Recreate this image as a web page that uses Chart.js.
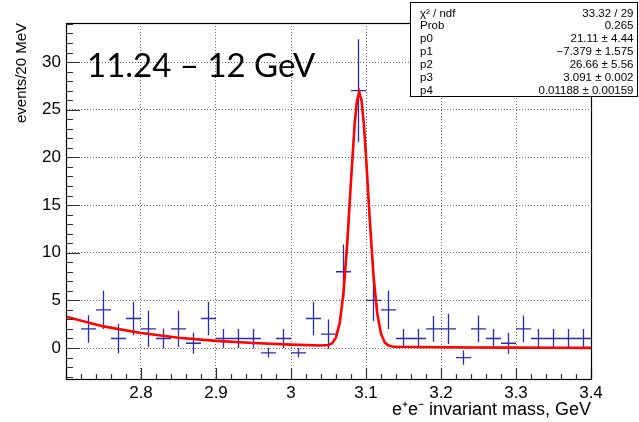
<!DOCTYPE html>
<html><head><meta charset="utf-8">
<script src="https://cdn.jsdelivr.net/npm/chart.js@4/dist/chart.umd.min.js"></script>
<style>html,body{margin:0;padding:0;background:#fff;}#wrap{width:639px;height:422px;}</style>
</head><body><div id="wrap"><canvas id="c" width="639" height="422"></canvas></div>
<script>
// ---- data ----
const binCenters = [2.71,2.73,2.75,2.77,2.79,2.81,2.83,2.85,2.87,2.89,2.91,2.93,2.95,2.97,2.99,3.01,3.03,3.05,3.07,3.09,3.11,3.13,3.15,3.17,3.19,3.21,3.23,3.25,3.27,3.29,3.31,3.33,3.35,3.37,3.39];
const counts = [null,2.0,4.0,1.0,3.1,2.0,1.0,2.0,0.5,3.1,1.0,1.0,1.0,-0.5,1.0,-0.5,3.1,1.45,8.0,27.0,5.0,4.0,1.0,1.0,2.0,2.0,-1.0,2.0,1.0,0.5,2.0,1.0,1.0,1.0,1.0];
const errors = [null,1.45,2.0,1.55,1.75,1.9,1.05,1.9,1.1,1.75,1.0,1.0,1.0,0.5,1.0,0.5,1.75,1.55,2.85,5.4,2.2,2.0,1.0,1.0,1.35,1.6,0.75,1.4,1.0,1.1,1.4,1.0,1.0,1.0,1.0];
const binHalfWidth = 0.01;
const fitX = [2.70,2.75,2.80,2.85,2.90,2.95,3.00,3.04,3.05,3.055,3.06,3.065,3.07,3.075,3.08,3.085,3.088,3.091,3.094,3.097,3.10,3.105,3.11,3.115,3.12,3.125,3.13,3.135,3.14,3.20,3.25,3.30,3.35,3.40];
const fitY = [3.28,2.27,1.57,1.08,0.75,0.52,0.36,0.27,0.32,0.51,1.12,2.65,5.80,10.97,17.56,23.66,25.95,26.84,26.00,23.60,20.18,13.48,7.58,3.62,1.50,0.59,0.26,0.16,0.13,0.08,0.06,0.04,0.03,0.02];
const xTickValues = [2.8,2.9,3.0,3.1,3.2,3.3,3.4];
const xTickLabels = ['2.8','2.9','3','3.1','3.2','3.3','3.4'];
const yTickValues = [0,5,10,15,20,25,30];
const yTickLabels = ['0','5','10','15','20','25','30'];
const statsLabels = ['\u03C7\u00B2 / ndf','Prob','p0','p1','p2','p3','p4'];
const statsValues = ['33.32 / 29','0.265','21.11 \u00B1 4.44','\u22127.379 \u00B1 1.575','26.66 \u00B1 5.56','3.091 \u00B1 0.002','0.01188 \u00B1 0.00159'];
const panelLabel = '11.24 \u2013 12 GeV';
const xTitle = 'e\u207Ae\u207B invariant mass, GeV';
const yTitle = 'events/20 MeV';
const xMin = 2.7, xMax = 3.4, yMin = -3.25, yMax = 34.1;

const FONT = "'Liberation Sans', Arial, Helvetica, sans-serif";
const DATA_COLOR = '#2b2ba3';

const rootPlugin = {
  id: 'rootStyle',
  beforeDatasetsDraw(chart) {
    const {ctx, chartArea: a, scales: {x, y}} = chart;
    ctx.save();
    ctx.beginPath(); ctx.rect(a.left, a.top, a.right - a.left, a.bottom - a.top); ctx.clip();
    ctx.strokeStyle = DATA_COLOR; ctx.lineWidth = 1.3;
    for (let i = 0; i < binCenters.length; i++) {
      if (counts[i] === null) continue;
      const cx = x.getPixelForValue(binCenters[i]);
      const cy = y.getPixelForValue(counts[i]);
      const x0 = x.getPixelForValue(binCenters[i] - binHalfWidth);
      const x1 = x.getPixelForValue(binCenters[i] + binHalfWidth);
      const y0 = y.getPixelForValue(counts[i] - errors[i]);
      const y1 = y.getPixelForValue(counts[i] + errors[i]);
      ctx.beginPath();
      ctx.moveTo(x0, cy); ctx.lineTo(x1, cy);
      ctx.moveTo(cx, y0); ctx.lineTo(cx, y1);
      ctx.stroke();
    }
    ctx.restore();
  },
  afterDraw(chart) {
    const {ctx, chartArea: a, scales: {x, y}} = chart;
    ctx.save();
    // inner ticks
    ctx.strokeStyle = '#333'; ctx.lineWidth = 1.2;
    ctx.beginPath();
    for (let v = 0; v <= 34; v++) {
      const py = Math.round(y.getPixelForValue(v)) + 0.5;
      const len = (v % 5 === 0) ? 14 : 7;
      ctx.moveTo(a.left, py); ctx.lineTo(a.left + len, py);
    }
    for (let v = -3; v < 0; v++) {
      const py = Math.round(y.getPixelForValue(v)) + 0.5;
      ctx.moveTo(a.left, py); ctx.lineTo(a.left + 7, py);
    }
    for (let k = 0; k <= 35; k++) {
      const v = xMin + k * 0.02;
      const px = Math.round(x.getPixelForValue(v)) + 0.5;
      const len = (k % 5 === 0) ? 11 : 5;
      ctx.moveTo(px, a.bottom); ctx.lineTo(px, a.bottom - len);
    }
    ctx.stroke();
    // frame
    ctx.strokeStyle = '#000'; ctx.lineWidth = 1.2;
    ctx.strokeRect(Math.round(a.left) + 0.5, Math.round(a.top) + 0.5, Math.round(a.right - a.left), Math.round(a.bottom - a.top));
    // panel label
    ctx.fillStyle = '#000';
    ctx.font = "33px Lato, 'Open Sans', sans-serif";
    ctx.textAlign = 'left'; ctx.textBaseline = 'alphabetic';
    ctx.fillText(panelLabel, 87, 77);
    // stats box
    const bx = 410, by = 2, bw = 227, bh = 94;
    ctx.fillStyle = '#fff'; ctx.fillRect(bx, by, bw, bh);
    ctx.strokeStyle = '#000'; ctx.lineWidth = 1;
    ctx.strokeRect(bx + 0.5, by + 0.5, bw, bh);
    ctx.fillStyle = '#000';
    ctx.font = '11.5px ' + FONT;
    for (let i = 0; i < statsLabels.length; i++) {
      const base = 16.5 + i * 12.9;
      ctx.textAlign = 'left'; ctx.fillText(statsLabels[i], 420, base);
      ctx.textAlign = 'right'; ctx.fillText(statsValues[i], 633.5, base);
    }
    ctx.restore();
  }
};

new Chart(document.getElementById('c'), {
  type: 'scatter',
  data: {
    datasets: [
      {
        label: 'data',
        data: binCenters.map((c, i) => ({x: c, y: counts[i]})).filter(p => p.y !== null),
        pointRadius: 0, showLine: false
      },
      {
        type: 'line', label: 'fit',
        data: fitX.map((c, i) => ({x: c, y: fitY[i]})),
        borderColor: '#ff0000', borderWidth: 2.6, pointRadius: 0, tension: 0, fill: false, showLine: true
      }
    ]
  },
  plugins: [rootPlugin],
  options: {
    responsive: false, animation: false, devicePixelRatio: 1,
    layout: {padding: {top: 23, right: 48, left: 0, bottom: 0}},
    plugins: {legend: {display: false}, tooltip: {enabled: false}},
    scales: {
      x: {
        type: 'linear', min: xMin, max: xMax,
        afterBuildTicks(s) { s.ticks = xTickValues.map(v => ({value: v})); },
        afterFit(s) { s.height = 43; },
        ticks: {
          color: '#000', font: {family: FONT, size: 17}, padding: 4, maxRotation: 0, autoSkip: false,
          callback: (v, i) => xTickLabels[i]
        },
        grid: {drawTicks: false, lineWidth: 1, color: c => (c.tick && c.tick.value < 3.35) ? '#666' : 'rgba(0,0,0,0)'},
        border: {display: false, dash: [1, 2]},
        title: {display: true, text: xTitle, align: 'end', color: '#000', font: {family: FONT, size: 18}, padding: {top: 0, bottom: 1}}
      },
      y: {
        type: 'linear', min: yMin, max: yMax,
        afterBuildTicks(s) { s.ticks = yTickValues.map(v => ({value: v})); },
        afterFit(s) { s.width = 66; },
        ticks: {
          color: '#000', font: {family: FONT, size: 17}, padding: 5,
          callback: (v, i) => yTickLabels[i]
        },
        grid: {drawTicks: false, lineWidth: 1, color: '#666'},
        border: {display: false, dash: [1, 2]},
        title: {display: true, text: yTitle, align: 'end', color: '#000', font: {family: FONT, size: 15}, padding: {top: 13, bottom: 0}}
      }
    }
  }
});
</script>
</body></html>
